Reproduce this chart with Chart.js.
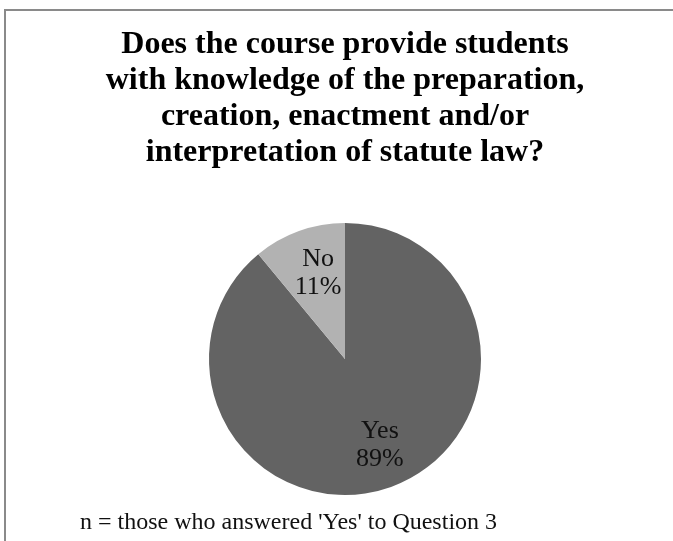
<!DOCTYPE html>
<html>
<head>
<meta charset="utf-8">
<script src="https://cdn.jsdelivr.net/npm/chart.js@4/dist/chart.umd.min.js"></script>
<style>
    html, body { margin: 0; padding: 0; background: #fff; }
    body { width: 673px; height: 541px; position: relative; overflow: hidden; }
    /* frame: only the top and left edges show */
    .frame {
        position: absolute;
        left: 4px;
        top: 9px;
        right: -10px;
        bottom: -10px;
        border-left: 2px solid #8a8a8a;
        border-top: 2px solid #8a8a8a;
    }
    #pie-statute { position: absolute; left: 0; top: 0; }
</style>
</head>
<body>
<div class="frame"></div>
<canvas id="pie-statute" width="673" height="541"></canvas>
<script>
const answerLabels = ["Yes", "No"];
const answerPercent = [89, 11];
const sliceColors = ["#636363", "#b2b2b2"];
const titleLines = [
    "Does the course provide students",
    "with knowledge of the preparation,",
    "creation, enactment and/or",
    "interpretation of statute law?",
];
const footnote = "n = those who answered 'Yes' to Question 3";

const serif = "'Liberation Serif', 'DejaVu Serif', serif";

// label + percentage inside each slice
const sliceLabels = {
    id: "sliceLabels",
    afterDatasetsDraw(chart) {
        const { ctx } = chart;
        const meta = chart.getDatasetMeta(0);
        ctx.save();
        ctx.font = `26px ${serif}`;
        ctx.fillStyle = "#111";
        ctx.textAlign = "center";
        ctx.textBaseline = "middle";
        meta.data.forEach((arc, i) => {
            const p = arc.getProps(["x", "y", "startAngle", "endAngle", "outerRadius"], true);
            const mid = (p.startAngle + p.endAngle) / 2;
            const r = p.outerRadius * 0.67;
            const cx = p.x + Math.cos(mid) * r + 4;
            const cy = p.y + Math.sin(mid) * r;
            ctx.fillText(answerLabels[i], cx, cy - 14);
            ctx.fillText(`${answerPercent[i]}%`, cx, cy + 14);
        });
        ctx.restore();
    },
};

// note under the pie, left aligned
const footnotePlugin = {
    id: "footnote",
    afterDraw(chart) {
        const { ctx } = chart;
        ctx.save();
        ctx.font = `24px ${serif}`;
        ctx.fillStyle = "#111";
        ctx.textAlign = "left";
        ctx.textBaseline = "alphabetic";
        ctx.fillText(footnote, 80, 529);
        ctx.restore();
    },
};

const canvas = document.getElementById("pie-statute");
canvas.chart = new Chart(canvas, {
    type: "pie",
    data: {
        labels: answerLabels,
        datasets: [
            {
                data: answerPercent,
                backgroundColor: sliceColors,
                borderWidth: 0,
            },
        ],
    },
    options: {
        responsive: false,
        animation: false,
        layout: {
            padding: { top: 0, bottom: 46, left: 60, right: 43 },
        },
        plugins: {
            legend: { display: false },
            tooltip: { enabled: false },
            title: {
                display: true,
                text: titleLines,
                color: "#000",
                font: { family: serif, size: 32, weight: "bold", lineHeight: 1.125 },
                padding: { top: 27, bottom: 52 },
            },
        },
    },
    plugins: [sliceLabels, footnotePlugin],
});
</script>
</body>
</html>
